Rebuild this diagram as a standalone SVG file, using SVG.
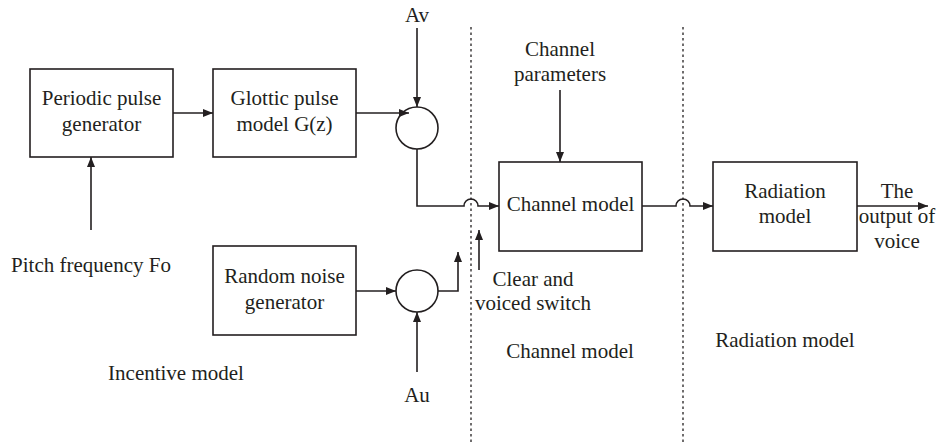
<svg xmlns="http://www.w3.org/2000/svg" width="938" height="443" viewBox="0 0 938 443">
<style>
text{font-family:"Liberation Serif","Times New Roman",serif;font-size:21px;fill:#231f20}
.c{text-anchor:middle}
.box{fill:#fff;stroke:#231f20;stroke-width:1.6}
.ln{fill:none;stroke:#231f20;stroke-width:1.6}
.dot{fill:none;stroke:#231f20;stroke-width:1.3;stroke-dasharray:2.5 3}
</style>
<defs>
<marker id="ah" viewBox="0 0 10 8" refX="10" refY="4" markerWidth="10" markerHeight="8" markerUnits="userSpaceOnUse" orient="auto">
<path d="M0,0 L10,4 L0,8 Z" fill="#231f20"/>
</marker>
</defs>
<rect width="938" height="443" fill="#fff"/>
<g id="dividers">
<line class="dot" x1="471" y1="27" x2="471" y2="443"/>
<line class="dot" x1="683" y1="27" x2="683" y2="443"/>
</g>
<g id="connectors">
<line class="ln" x1="173" y1="113" x2="213" y2="113" marker-end="url(#ah)"/>
<line class="ln" x1="91" y1="230" x2="91" y2="157" marker-end="url(#ah)"/>
<line class="ln" x1="356" y1="113" x2="409" y2="113" marker-end="url(#ah)"/>
<line class="ln" x1="417" y1="28" x2="417" y2="107" marker-end="url(#ah)"/>
<path class="ln" d="M417,149 V206 H464 A7,7 0 0 1 478,206 H499" marker-end="url(#ah)"/>
<line class="ln" x1="356" y1="291" x2="396" y2="291" marker-end="url(#ah)"/>
<path class="ln" d="M438,291 H458 V252" marker-end="url(#ah)"/>
<line class="ln" x1="417" y1="372" x2="417" y2="312" marker-end="url(#ah)"/>
<line class="ln" x1="479" y1="270" x2="479" y2="230" marker-end="url(#ah)"/>
<line class="ln" x1="560" y1="90" x2="560" y2="162" marker-end="url(#ah)"/>
<path class="ln" d="M642,206 H676 A7,7 0 0 1 690,206 H713" marker-end="url(#ah)"/>
<line class="ln" x1="857" y1="206" x2="928" y2="206" marker-end="url(#ah)"/>
</g>
<g id="periodic">
<rect class="box" x="30" y="69" width="143" height="88"/>
<text class="c" x="101.5" y="105">Periodic pulse</text>
<text class="c" x="101.5" y="131">generator</text>
</g>
<g id="glottic">
<rect class="box" x="213" y="69" width="143" height="88"/>
<text class="c" x="284.5" y="105">Glottic pulse</text>
<text class="c" x="284.5" y="131">model G(z)</text>
</g>
<g id="noise">
<rect class="box" x="213" y="246" width="143" height="89"/>
<text class="c" x="284.5" y="283">Random noise</text>
<text class="c" x="284.5" y="309">generator</text>
</g>
<g id="sumAv">
<circle class="ln" cx="417" cy="128" r="21"/>
</g>
<g id="sumAu">
<circle class="ln" cx="417" cy="291" r="21"/>
</g>
<g id="channel">
<rect class="box" x="499" y="162" width="143" height="89"/>
<text class="c" x="570.5" y="211">Channel model</text>
</g>
<g id="radiation">
<rect class="box" x="713" y="162" width="144" height="89"/>
<text class="c" x="785" y="198">Radiation</text>
<text class="c" x="785" y="223">model</text>
</g>
<g id="labels">
<text class="c" x="417" y="22">Av</text>
<text class="c" x="417" y="402">Au</text>
<text class="c" x="560" y="56">Channel</text>
<text class="c" x="560" y="81">parameters</text>
<text class="c" x="91" y="272">Pitch frequency Fo</text>
<text class="c" x="533" y="286">Clear and</text>
<text class="c" x="533" y="310">voiced switch</text>
<text class="c" x="897" y="198">The</text>
<text class="c" x="897" y="223">output of</text>
<text class="c" x="897" y="248">voice</text>
<text class="c" x="176" y="380">Incentive model</text>
<text class="c" x="570" y="358">Channel model</text>
<text class="c" x="785" y="347">Radiation model</text>
</g>
</svg>
